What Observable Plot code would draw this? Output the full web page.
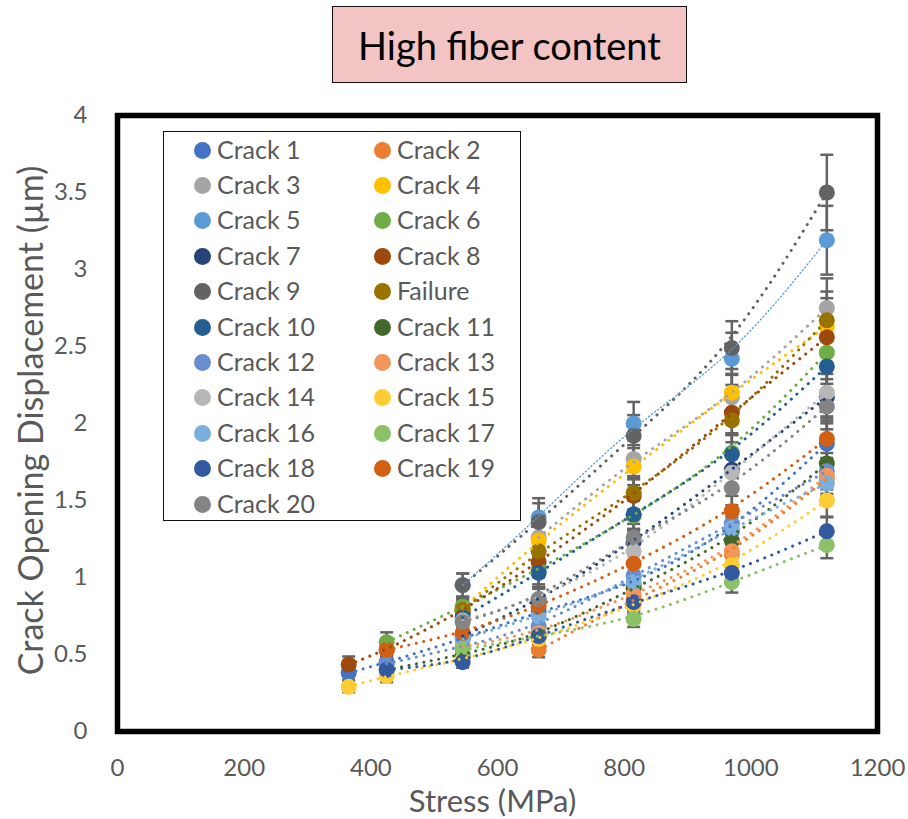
<!DOCTYPE html>
<html>
<head>
<meta charset="utf-8">
<script src="https://cdn.jsdelivr.net/npm/d3@7"></script>
<script src="https://cdn.jsdelivr.net/npm/@observablehq/plot@0.6"></script>
<style>
  body { margin: 0; background: #fff; }
  #wrap { position: relative; width: 908px; height: 819px; overflow: hidden; font-family: Lato, "Noto Sans", sans-serif; }
  #chart { position: absolute; left: 0; top: 0; }
  #title { position: absolute; left: 332px; top: 6px; width: 355px; height: 77px; box-sizing: border-box;
           border: 1.5px solid #111; background: #F2C4C4; display: flex; align-items: center; justify-content: center;
           font-size: 38px; color: #000; }
  #legend { position: absolute; left: 163px; top: 131px; width: 358px; height: 390px; box-sizing: border-box;
            border: 1.5px solid #111; background: #fff; }
  .lg-dot { position: absolute; width: 17px; height: 17px; border-radius: 50%; }
  .lg-txt { position: absolute; font-size: 25px; color: #595959; line-height: 1; white-space: nowrap; }
</style>
</head>
<body>
<div id="wrap">
  <div id="chart"></div>
  <div id="title">High fiber content</div>
  <div id="legend"></div>
</div>
<script>
// ---- data ----
const stress = [365, 425, 545, 665, 815, 970, 1120];
const xTicks = [0, 200, 400, 600, 800, 1000, 1200];
const yTicks = [0, 0.5, 1, 1.5, 2, 2.5, 3, 3.5, 4];
// relative error-bar size per stress level
const errFrac = [0.12, 0.11, 0.08, 0.09, 0.07, 0.07, 0.07];

const crack1  = [0.38, 0.45, 0.60, 0.78, 0.95, 1.30, 1.87];
const crack2  = [null, null, null, 0.53, 0.86, 1.15, 1.64];
const crack3  = [null, null, null, 1.26, 1.77, 2.17, 2.75];
const crack4  = [null, null, 0.80, 1.24, 1.72, 2.20, 2.63];
const crack5  = [null, null, 0.95, 1.39, 2.00, 2.42, 3.19];
const crack6  = [null, 0.58, 0.81, 1.05, 1.40, 1.81, 2.46];
const crack7  = [null, null, 0.62, 0.85, 1.23, 1.70, 2.17];
const crack8  = [0.435, 0.53, 0.78, 1.10, 1.53, 2.07, 2.56];
const crack9  = [null, null, 0.95, 1.36, 1.92, 2.49, 3.50];
const failure = [null, null, 0.79, 1.17, 1.55, 2.02, 2.67];
const crack10 = [null, null, 0.74, 1.03, 1.41, 1.80, 2.37];
const crack11 = [null, 0.40, 0.50, 0.62, 0.93, 1.24, 1.74];
const crack12 = [null, 0.44, 0.55, 0.68, 1.01, 1.35, 1.69];
const crack13 = [null, null, 0.55, 0.64, 0.89, 1.17, 1.66];
const crack14 = [null, null, 0.72, 0.86, 1.17, 1.68, 2.20];
const crack15 = [0.29, 0.36, 0.47, 0.60, 0.82, 1.08, 1.50];
const crack16 = [null, null, 0.60, 0.75, 0.97, 1.32, 1.61];
const crack17 = [null, null, 0.53, 0.62, 0.73, 0.97, 1.21];
const crack18 = [null, 0.40, 0.45, 0.62, 0.84, 1.03, 1.30];
const crack19 = [null, 0.53, 0.64, 0.81, 1.09, 1.43, 1.90];
const crack20 = [null, null, 0.71, 0.86, 1.26, 1.58, 2.11];

const seriesNames = ["Crack 1","Crack 2","Crack 3","Crack 4","Crack 5","Crack 6","Crack 7","Crack 8","Crack 9","Failure",
  "Crack 10","Crack 11","Crack 12","Crack 13","Crack 14","Crack 15","Crack 16","Crack 17","Crack 18","Crack 19","Crack 20"];
const seriesColors = ["#4472C4","#ED7D31","#A5A5A5","#FFC000","#5B9BD5","#70AD47","#264478","#9E480E","#636363","#997300",
  "#255E91","#43682B","#698ED0","#F1975A","#B7B7B7","#FFCD33","#7CAFDD","#8CC168","#335AA1","#D26012","#848484"];
const seriesValues = [crack1, crack2, crack3, crack4, crack5, crack6, crack7, crack8, crack9, failure,
  crack10, crack11, crack12, crack13, crack14, crack15, crack16, crack17, crack18, crack19, crack20];

// ---- tidy table ----
const rows = [];
seriesValues.forEach((vals, k) => {
  vals.forEach((v, i) => {
    if (v == null) return;
    rows.push({name: seriesNames[k], color: seriesColors[k], k, x: stress[i], y: v, e: v * errFrac[i]});
  });
});

const capSymbol = {
  draw(context, size) {
    const r = Math.sqrt(size / Math.PI);
    context.moveTo(-r, 0);
    context.lineTo(r, 0);
  }
};

const errColor = "#646464";

const chart = Plot.plot({
  width: 908,
  height: 819,
  marginTop: 115,
  marginBottom: 88,
  marginLeft: 117,
  marginRight: 31,
  style: {fontFamily: "Lato, 'Noto Sans', sans-serif", fontSize: "24px", color: "#595959", background: "transparent", overflow: "visible"},
  x: {domain: [0, 1200], ticks: xTicks, tickFormat: d => String(d), tickSize: 0, tickPadding: 27, label: null},
  y: {domain: [0, 4], ticks: yTicks, tickFormat: d => String(d), tickSize: 0, tickPadding: 30, label: null},
  color: {type: "identity"},
  marks: [
    // error bars
    Plot.ruleX(rows, {x: "x", y1: d => d.y - d.e, y2: d => d.y + d.e, stroke: errColor, strokeWidth: 2.5}),
    Plot.dot(rows, {x: "x", y: d => d.y - d.e, symbol: capSymbol, r: 6.5, fill: "none", stroke: errColor, strokeWidth: 2.5}),
    Plot.dot(rows, {x: "x", y: d => d.y + d.e, symbol: capSymbol, r: 6.5, fill: "none", stroke: errColor, strokeWidth: 2.5}),
    // markers
    Plot.dot(rows, {x: "x", y: "y", r: 8, fill: "color", stroke: "none"}),
    // trendlines (dotted)
    Plot.line(rows, {filter: d => d.name !== "Crack 5", x: "x", y: "y", z: "name", stroke: "color", strokeWidth: 3,
      strokeDasharray: "0.1 7.5", strokeLinecap: "round", curve: "basis"}),
    Plot.line(rows, {filter: d => d.name === "Crack 5", x: "x", y: "y", z: "name", stroke: "color", strokeWidth: 1.3,
      strokeDasharray: "1.2 2.6", curve: "basis"}),
    // axis titles
    Plot.text(["Stress (MPa)"], {frameAnchor: "bottom", lineAnchor: "middle", textAnchor: "middle", dy: 71, dx: -5, fontSize: 31, fill: "#595959"}),
    Plot.text(["Crack Opening Displacement (µm)"], {frameAnchor: "left", lineAnchor: "middle", textAnchor: "middle", rotate: -90, dx: -85, dy: -3, fontSize: 34, fill: "#595959"}),
    // plot-area frame
    Plot.frame({stroke: "#000", strokeWidth: 5.5})
  ]
});
document.getElementById("chart").appendChild(chart);

// ---- legend ----
const legend = document.getElementById("legend");
seriesNames.forEach((name, i) => {
  const col = i % 2, row = Math.floor(i / 2);
  const cy = 18 + row * 35.4;
  const dot = document.createElement("div");
  dot.className = "lg-dot";
  dot.style.background = seriesColors[i];
  dot.style.left = (col === 0 ? 30 : 210) + "px";
  dot.style.top = (cy - 8.5) + "px";
  legend.appendChild(dot);
  const t = document.createElement("div");
  t.className = "lg-txt";
  t.textContent = name;
  t.style.left = (col === 0 ? 53 : 233) + "px";
  t.style.top = (cy - 13.5) + "px";
  legend.appendChild(t);
});
</script>
</body>
</html>
